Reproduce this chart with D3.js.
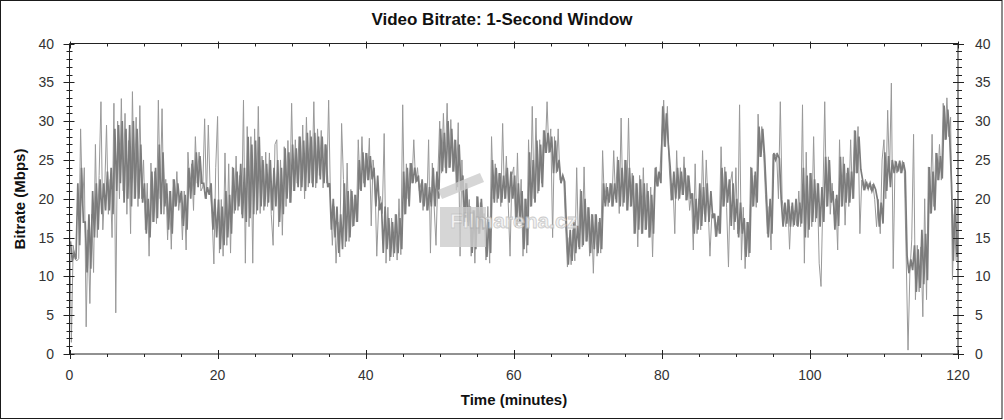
<!DOCTYPE html>
<html>
<head>
<meta charset="utf-8">
<script src="https://cdn.jsdelivr.net/npm/d3@7"></script>
<style>
  html, body { margin: 0; padding: 0; background: #fff; }
  svg { display: block; font-family: "Liberation Sans", Arial, sans-serif; }
</style>
</head>
<body>
<svg id="chart" width="1004" height="420"></svg>
<script>
// ---- data ----
const title = "Video Bitrate: 1-Second Window";
const xLabel = "Time (minutes)";
const yLabel = "Bitrate (Mbps)";
const xTickLabels = [0, 20, 40, 60, 80, 100, 120];
const yTickLabels = [0, 5, 10, 15, 20, 25, 30, 35, 40];
const sampleStepMinutes = 0.25;
// bitrate peaks/dips in Mbps, one value every 0.25 minute (4 per minute), minutes 0..119
const bitratePeaks = [
  18, 1.5, 14, 12.2,   12, 12.3, 29, 19,    24, 3.5, 16, 6.5,    18, 10.5, 27, 15,
  23, 32.5, 16, 21,    29.5, 18, 22.5, 15,  32.3, 5.3, 30, 20,   32.9, 21, 31, 18,
  27.5, 15.5, 33.8, 20, 30.5, 19, 32, 20,   25, 16, 22, 12.6,    24.6, 17, 23.5, 16.8,
  32.7, 20, 31.6, 18,  22.5, 14.7, 21, 13.5, 22.5, 19, 23.5, 18.5, 20.7, 14.7, 21, 13.4,
  26, 21.5, 24.5, 18.5, 28, 22, 26, 21,     21.5, 30.3, 20, 29.5, 21, 18, 11.6, 24,
  30.6, 13, 19.9, 12.6, 25.9, 14, 24.5, 13, 24.1, 18.1, 25.5, 18.5, 23, 18, 32.7, 11.7,
  29.3, 16.4, 28, 11.7, 29, 18, 31.9, 18.1, 25.5, 18.5, 26, 19,  25.9, 18, 14, 27,
  27.6, 16.4, 25, 15.3, 26.7, 19, 27.5, 19.5, 32.3, 21, 27.6, 22, 28, 21, 29.5, 20,
  30.5, 21.5, 28.8, 22, 32.5, 21.4, 29, 23, 28.8, 21.4, 27, 22, 32.7, 19.9, 14, 19,
  11.7, 17, 12.5, 29.7, 22.5, 13.8, 24.6, 14.5, 21.2, 16.4, 20.5, 17, 27.6, 21.2, 28, 22,
  25.9, 22.4, 27.8, 16.5, 25, 22.4, 12.6, 19, 20.3, 18.1, 28.4, 11.7, 18.9, 12, 17.5, 12.5,
  18, 12.1, 20, 12.8,  32.1, 18, 24.5, 20,  24.6, 22, 27.6, 22,  24, 21, 22, 18.5,
  22, 18.5, 27.6, 13,  24.6, 19, 14, 23,    30, 23.3, 31, 24,    32.3, 24, 30.2, 23.5,
  27.6, 21.1, 29.8, 12.6, 25, 16.5, 22, 17, 19.9, 12.6, 18.5, 11.7, 20.3, 15.5, 19.5, 16,
  18.1, 12.1, 19, 11.7, 28, 20, 24.5, 19.5, 23.3, 19, 29.7, 20,  25.5, 19.5, 12.6, 23,
  24.1, 16.4, 25.9, 17, 22.5, 12.6, 20, 13, 27.6, 19, 31.9, 20,  30.4, 20.7, 27.6, 22,
  28.8, 25.9, 32.5, 25.9, 29, 15, 28, 23.3, 29, 22.4, 22.4, 22.5, 16.4, 11.2, 15, 11.5,
  16, 12, 24, 13.8,    21.2, 13.8, 24.1, 14.5, 18.9, 12.6, 18, 10.4, 18, 12.6, 17, 13,
  26.2, 19.5, 22, 19,  22, 19, 26.2, 20,    25.4, 18.1, 30.4, 19, 25, 18.5, 30.4, 19,
  23.3, 15.5, 22, 13.8, 23, 15.5, 24, 16,   22, 15, 21.5, 12.5,  21.6, 24.1, 21.6, 23.5,
  28, 32.7, 26.7, 31.9, 24.1, 19.8, 22, 15.5, 26.2, 19.8, 24, 20.5, 25.4, 19.8, 23, 18.5,
  20.7, 13.4, 24.5, 15.5, 20, 16, 26.2, 18, 25, 19, 12.6, 18,    18.1, 15.1, 17, 15.5,
  26.7, 19, 24.1, 18.9, 11.2, 22, 23.5, 16, 24, 15.5, 32.1, 12.1, 18.9, 11, 17, 12.5,
  24.1, 19, 23, 18.9,  30.9, 25.4, 29.3, 25.8, 20.5, 15.5, 19, 13.4, 25.7, 25.4, 25.9, 20,
  32.5, 19.9, 18, 16.4, 19.9, 13.5, 19, 16.4, 18.5, 16.5, 21, 16.4, 32.1, 11.7, 26, 15,
  23.3, 16.4, 28, 17,  22, 11.7, 8.7, 20,   32.5, 19, 25.4, 18,  22, 18, 20, 13.4,
  27.6, 19, 25.4, 16.6, 23.3, 19, 27.6, 20, 28.8, 23.3, 29.3, 15.5, 22.4, 21.1, 22.5, 21.3,
  22, 21.1, 21.9, 19.9, 16.4, 19.9, 15.5, 25, 27.6, 20, 31.4, 23, 34.9, 11, 24.9, 23.3,
  24.5, 23.3, 24.9, 23.5, 12.6, 0.5, 10.4, 14.7, 28.3, 7, 14, 8, 13.8, 4.8, 20, 7,
  24.1, 18.1, 28.3, 19, 25.9, 22.4, 27, 22.4, 32.3, 27.6, 33, 28, 30.5, 9.6, 18, 12
];
// dense core of the 1-second samples, 4 per minute, sampled 0.125 min after the peaks
const bitrateCore = [
  14.5, 12, 13, 12.2,  22, 14, 24, 17,      17, 10.5, 18, 11,    21, 15, 22, 16,
  22.5, 18, 22, 18.5,  23.5, 18.5, 24, 18,  29, 21, 29.5, 22,    30, 19.5, 29, 20,
  29.5, 19, 30, 20,    29, 20, 27, 19.5,    22, 15.5, 20, 15,    23.5, 17, 24, 17.5,
  27, 18, 26, 19,      22, 16, 21, 15.5,    22.5, 19, 22, 19.5,  21, 16.5, 20.5, 16,
  24, 20, 25, 20.5,    26, 21.5, 25.5, 22,  22, 20, 21.5, 20.5,  22, 16, 20, 15,
  19.9, 13.5, 19, 14,  21, 15, 20.5, 15.5,  24, 18.5, 23.5, 19,  24.5, 17.5, 24, 17,
  28, 17.5, 27, 18,    27.5, 18.5, 28, 19,  25, 19, 24.5, 19.5,  25, 18.5, 24, 19,
  25, 17, 24, 18,      26.5, 20, 26, 19.5,  27, 21, 26.5, 21.5,  28, 21.5, 27.5, 21,
  28.5, 22, 28, 21.5,  28.5, 22, 28, 22.5,  28, 22, 27, 21.5,    22, 16, 20, 15,
  19, 13, 18, 13.5,    22, 14.5, 21, 15,    21, 16.5, 20.5, 17,  25, 21, 26, 21.5,
  25.9, 22.4, 25.5, 22.5, 24, 19, 23, 18.5, 19.5, 13, 19, 13.5,  17.5, 12.5, 17, 13,
  18, 13, 17.5, 13.5,  23.5, 18, 24, 19,    24.6, 22, 24, 22.2,  23, 19.5, 22.5, 19,
  22, 18.5, 21.5, 19,  24, 19, 23.5, 20,    29, 23.5, 28.5, 23.3, 30, 24, 29, 23.5,
  27.6, 21.5, 27, 21.1, 23, 17, 22, 16.5,   19, 13, 18.5, 13.5,  20.3, 15.5, 20, 16,
  17.5, 12.5, 17, 13,  25, 19.5, 24, 20,    23.3, 19.5, 23, 20,  24, 19.5, 23.5, 20,
  23, 16.5, 22, 17,    21, 13.5, 20, 14,    26, 19, 25, 19.5,    27.5, 21, 27, 21.5,
  28.8, 25.9, 28.5, 26, 28, 23.3, 27.5, 23.5, 25, 22, 23, 22.2,  16.4, 11.5, 16, 12,
  17, 13, 16.5, 13.5,  21, 14, 20, 14.5,    18.9, 13, 18, 13.5,  18, 13, 17.5, 13.5,
  22, 19, 21.5, 19.5,  22, 19, 22, 19.5,    25, 19, 24, 19.5,    25, 18.5, 24, 19,
  23, 15.5, 22, 16,    22.5, 15.5, 22, 16,  21, 15, 20.5, 15.5,  24, 21.6, 23.5, 22,
  31.9, 26.7, 31, 27,  24.1, 19.8, 23.5, 20, 24, 20, 23.5, 20.5, 24, 19.8, 23, 20,
  20.7, 15.5, 20, 16,  22, 16.5, 21.5, 17,  22, 17, 21, 17.5,    18.1, 15.1, 17.8, 15.5,
  24, 19, 23.5, 19.5,  22.5, 16.5, 22, 17,  20, 15, 19.5, 15.5,  17.5, 12.5, 17, 13,
  24, 19, 23.5, 19.5,  29.3, 25.4, 29, 25.6, 20.5, 15, 20, 15.5, 25.9, 25, 25.7, 25.2,
  19.9, 16.4, 19.5, 16.8, 19.9, 16.4, 19.5, 16.6, 20, 16.4, 19.5, 16.8, 24, 15, 23, 16,
  23.3, 17, 22.5, 17.5, 22, 16.4, 21.5, 17, 25.4, 19, 25, 19.5,  21, 16, 20.5, 16.5,
  25.4, 19, 24.5, 19.5, 24, 19.5, 23.5, 20, 28.8, 23.3, 28, 23.8, 22.4, 21.1, 22.2, 21.3,
  22, 21, 21.8, 21.2,  19.9, 16.4, 19.5, 16.8, 26, 21, 25.5, 21.5, 25, 23.3, 24.8, 23.5,
  24.9, 23.3, 24.7, 23.5, 12.6, 10.4, 12.2, 10.8, 14, 8, 13.5, 8.5, 16, 9, 15.5, 9.5,
  24.1, 18.1, 23.5, 18.5, 25.9, 22.4, 25.5, 22.6, 32, 27.6, 31.5, 28, 22, 12, 20, 12.5
];
const coreOffsetMinutes = 0.125;

// ---- layout ----
const svg = d3.select("#chart");
const m = { left: 69.5, right: 958, top: 43.5, bottom: 354 };

const x = d3.scaleLinear().domain([0, 120]).range([m.left, m.right]);
const y = d3.scaleLinear().domain([0, 40]).range([m.bottom, m.top]);

// outer frame
svg.append("rect").attr("x", 0.5).attr("y", 0.5).attr("width", 1001.5).attr("height", 418)
  .attr("fill", "#fff").attr("stroke", "#1a1a1a").attr("stroke-width", 1);

// title
svg.append("text").attr("x", 502).attr("y", 25).attr("text-anchor", "middle")
  .attr("font-size", 17).attr("font-weight", "bold").attr("fill", "#111").text(title);

// axis titles
svg.append("text").attr("transform", "translate(25,199) rotate(-90)").attr("text-anchor", "middle")
  .attr("font-size", 15).attr("font-weight", "bold").attr("fill", "#111").text(yLabel);
svg.append("text").attr("x", 514).attr("y", 405).attr("text-anchor", "middle")
  .attr("font-size", 15).attr("font-weight", "bold").attr("fill", "#111").text(xLabel);

const line = d3.line().x(d => x(d[0])).y(d => y(d[1]));

// peaks / dips (thin, lighter)
const peakPts = bitratePeaks.map((v, i) => [i * sampleStepMinutes, v]);
svg.append("path").datum(peakPts).attr("d", line)
  .attr("fill", "none").attr("stroke", "#999").attr("stroke-width", 1);

// dense core (darker)
const corePts = bitrateCore.map((v, i) => [i * sampleStepMinutes + coreOffsetMinutes, v]);
svg.append("path").datum(corePts).attr("d", line)
  .attr("fill", "none").attr("stroke", "#7c7c7c").attr("stroke-width", 1.7);

// watermark (light, over the data)
const wm = svg.append("g").attr("opacity", 0.8);
wm.append("path").attr("d", "M440,207 L486,207 L486,247 L440,247 Z").attr("fill", "#cdcdcd");
wm.append("path").attr("d", "M438,190 L480,173 L484,182 L442,199 Z").attr("fill", "#cdcdcd");
wm.append("text").attr("x", 450).attr("y", 228).attr("font-size", 21).attr("font-weight", "bold")
  .attr("fill", "#efefef").attr("stroke", "#bdbdbd").attr("stroke-width", 0.8).text("Filmarena.cz");

// frame lines
const axisColor = "#222";
[[m.left, m.top, m.right, m.top], [m.left, m.bottom, m.right, m.bottom],
 [m.left, m.top, m.left, m.bottom], [m.right, m.top, m.right, m.bottom]].forEach(l => {
  svg.append("line").attr("x1", l[0]).attr("y1", l[1]).attr("x2", l[2]).attr("y2", l[3]).attr("stroke", axisColor);
});

// y ticks (minor every 1, major every 5), both sides
d3.range(0, 41, 1).forEach(v => {
  const major = v % 5 === 0;
  const yy = Math.round(y(v)) + 0.5;
  svg.append("line").attr("x1", major ? m.left - 6 : m.left - 3).attr("x2", major ? m.left + 5 : m.left + 3)
    .attr("y1", yy).attr("y2", yy).attr("stroke", axisColor);
  svg.append("line").attr("x1", major ? m.right - 5 : m.right - 2).attr("x2", major ? m.right + 6 : m.right + 4)
    .attr("y1", yy).attr("y2", yy).attr("stroke", axisColor);
});
yTickLabels.forEach(v => {
  svg.append("text").attr("x", 54).attr("y", y(v) + 5).attr("text-anchor", "end")
    .attr("font-size", 14).attr("fill", "#333").text(v);
  svg.append("text").attr("x", 975).attr("y", y(v) + 5).attr("text-anchor", "start")
    .attr("font-size", 14).attr("fill", "#333").text(v);
});

// x ticks (minor every 5, major every 20), bottom and top
d3.range(0, 121, 5).forEach(v => {
  const major = v % 20 === 0;
  const xx = Math.round(x(v)) + 0.5;
  svg.append("line").attr("x1", xx).attr("x2", xx)
    .attr("y1", major ? m.bottom - 4 : m.bottom).attr("y2", major ? m.bottom + 5 : m.bottom + 3)
    .attr("stroke", axisColor);
  svg.append("line").attr("x1", xx).attr("x2", xx)
    .attr("y1", major ? m.top - 2 : m.top).attr("y2", major ? m.top + 5 : m.top + 3)
    .attr("stroke", axisColor);
});
xTickLabels.forEach(v => {
  svg.append("text").attr("x", x(v)).attr("y", 380).attr("text-anchor", "middle")
    .attr("font-size", 14).attr("fill", "#333").text(v);
});
</script>
</body>
</html>
